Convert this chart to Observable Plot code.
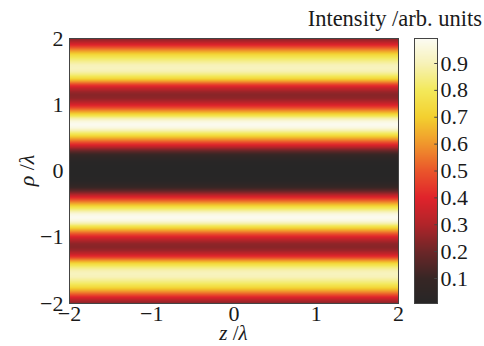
<!DOCTYPE html>
<html>
<head>
<meta charset="utf-8">
<script src="https://cdn.jsdelivr.net/npm/d3@7"></script>
<script src="https://cdn.jsdelivr.net/npm/@observablehq/plot@0.6"></script>
<style>
  html, body { margin: 0; padding: 0; background: #fff; }
  #wrap { position: relative; width: 484px; height: 346px; overflow: hidden; font-family: 'Times New Roman', serif; color: #1a1a1a; }
  #wrap svg { position: absolute; top: 0; }
  #title { position: absolute; right: 2px; top: 8px; font-size: 22.5px; white-space: nowrap; line-height: 1; }
</style>
</head>
<body>
<div id="wrap"><div id="title">Intensity /arb. units</div></div>
<script>
// radial coordinate samples (ρ/λ) and intensity profile (constant along z)
const rho = [-2.00,-1.95,-1.90,-1.85,-1.80,-1.75,-1.70,-1.65,-1.60,-1.55,-1.50,-1.45,-1.40,-1.35,-1.30,-1.25,-1.20,-1.15,-1.10,-1.05,
  -1.00,-0.95,-0.90,-0.85,-0.80,-0.75,-0.70,-0.65,-0.60,-0.55,-0.50,-0.45,-0.40,-0.35,-0.30,-0.25,-0.20,-0.15,-0.10,-0.05,
  0.00,0.05,0.10,0.15,0.20,0.25,0.30,0.35,0.40,0.45,0.50,0.55,0.60,0.65,0.70,0.75,0.80,0.85,0.90,0.95,
  1.00,1.05,1.10,1.15,1.20,1.25,1.30,1.35,1.40,1.45,1.50,1.55,1.60,1.65,1.70,1.75,1.80,1.85,1.90,1.95,2.00];
const intensity = [0.24,0.31,0.41,0.53,0.64,0.74,0.81,0.86,0.90,0.91,0.89,0.83,0.74,0.60,0.45,0.34,0.27,0.24,0.25,0.30,
  0.38,0.49,0.61,0.74,0.87,0.96,0.99,0.96,0.87,0.77,0.65,0.53,0.41,0.29,0.18,0.10,0.05,0.02,0.01,0.005,
  0.005,0.005,0.01,0.02,0.05,0.10,0.18,0.29,0.41,0.53,0.65,0.77,0.87,0.96,0.99,0.96,0.87,0.74,0.61,0.49,
  0.38,0.30,0.25,0.24,0.27,0.34,0.45,0.60,0.74,0.83,0.89,0.91,0.90,0.86,0.81,0.74,0.64,0.53,0.41,0.31,0.24];
const zEnds = [-2, 2];
const xTicks = [-2, -1, 0, 1, 2];
const xTickLabels = ["−2", "−1", "0", "1", "2"];
const yTicks = [-2, -1, 0, 1, 2];
const yTickLabels = ["−2", "−1", "0", "1", "2"];
const cbTicks = [0.1, 0.2, 0.3, 0.4, 0.5, 0.6, 0.7, 0.8, 0.9];
const cbTickLabels = ["0.1", "0.2", "0.3", "0.4", "0.5", "0.6", "0.7", "0.8", "0.9"];
const cbDomain = [0.007, 0.993];
const cmapColors = ["#262626", "#372625", "#6c2628", "#b02429", "#e0232b", "#ea552b", "#f0962c", "#f3d02f", "#f3e95a", "#f7f2b8", "#fcfcf8"];

const grid = [];
for (const z of zEnds) rho.forEach((r, i) => grid.push({z, rho: r, v: intensity[i]}));

const serif = "'Times New Roman', serif";
const colorScale = {type: "linear", domain: [0, 1], interpolate: d3.piecewise(d3.interpolateRgb, cmapColors), clamp: true};
const font = "font-family: 'Times New Roman', serif; font-size: 22px; color: #1a1a1a; background: transparent;";

const main = Plot.plot({
  width: 484, height: 346,
  marginLeft: 69, marginRight: 86, marginTop: 38, marginBottom: 43,
  style: font,
  x: {domain: [-2, 2], ticks: xTicks, tickFormat: d => xTickLabels[xTicks.indexOf(d)], tickSize: 0, tickPadding: 2, label: null},
  y: {domain: [-2, 2], ticks: yTicks, tickFormat: d => yTickLabels[yTicks.indexOf(d)], tickSize: 0, tickPadding: 6, label: null},
  color: colorScale,
  marks: [
    Plot.raster(grid, {x: "z", y: "rho", fill: "v", x1: -2, x2: 2, y1: -2, y2: 2, interpolate: "barycentric"}),
    Plot.frame({stroke: "#444", strokeWidth: 1})
  ]
});
main.style.left = "0px";
document.getElementById("wrap").appendChild(main);

const svg = d3.select(main);
const xl = svg.append("text").attr("x", 233.5).attr("y", 340).attr("text-anchor", "middle")
  .style("font-size", "21px").style("font-family", serif).attr("fill", "#1a1a1a");
xl.append("tspan").style("font-style", "italic").text("z");
xl.append("tspan").text(" /");
xl.append("tspan").style("font-style", "italic").text("λ");
const yl = svg.append("text").attr("transform", "translate(34,170.5) rotate(-90)").attr("text-anchor", "middle")
  .style("font-size", "22px").style("font-family", serif).attr("fill", "#1a1a1a");
yl.append("tspan").style("font-style", "italic").text("ρ");
yl.append("tspan").text(" /");
yl.append("tspan").style("font-style", "italic").text("λ");

const cb = Plot.plot({
  width: 70, height: 346,
  marginLeft: 0, marginRight: 47, marginTop: 38, marginBottom: 43,
  style: font,
  x: {domain: [0, 1], axis: null},
  y: {domain: cbDomain, axis: "right", ticks: cbTicks, tickFormat: d => cbTickLabels[cbTicks.indexOf(d)], tickSize: 0, tickPadding: 3, label: null},
  color: colorScale,
  marks: [
    Plot.raster({fill: (x, y) => y, x1: 0, x2: 1, y1: cbDomain[0], y2: cbDomain[1]}),
    Plot.ruleY(cbTicks, {x1: 0.88, x2: 1, stroke: "#444"}),
    Plot.frame({stroke: "#444", strokeWidth: 1})
  ]
});
cb.style.left = "414px";
document.getElementById("wrap").appendChild(cb);
</script>
</body>
</html>
